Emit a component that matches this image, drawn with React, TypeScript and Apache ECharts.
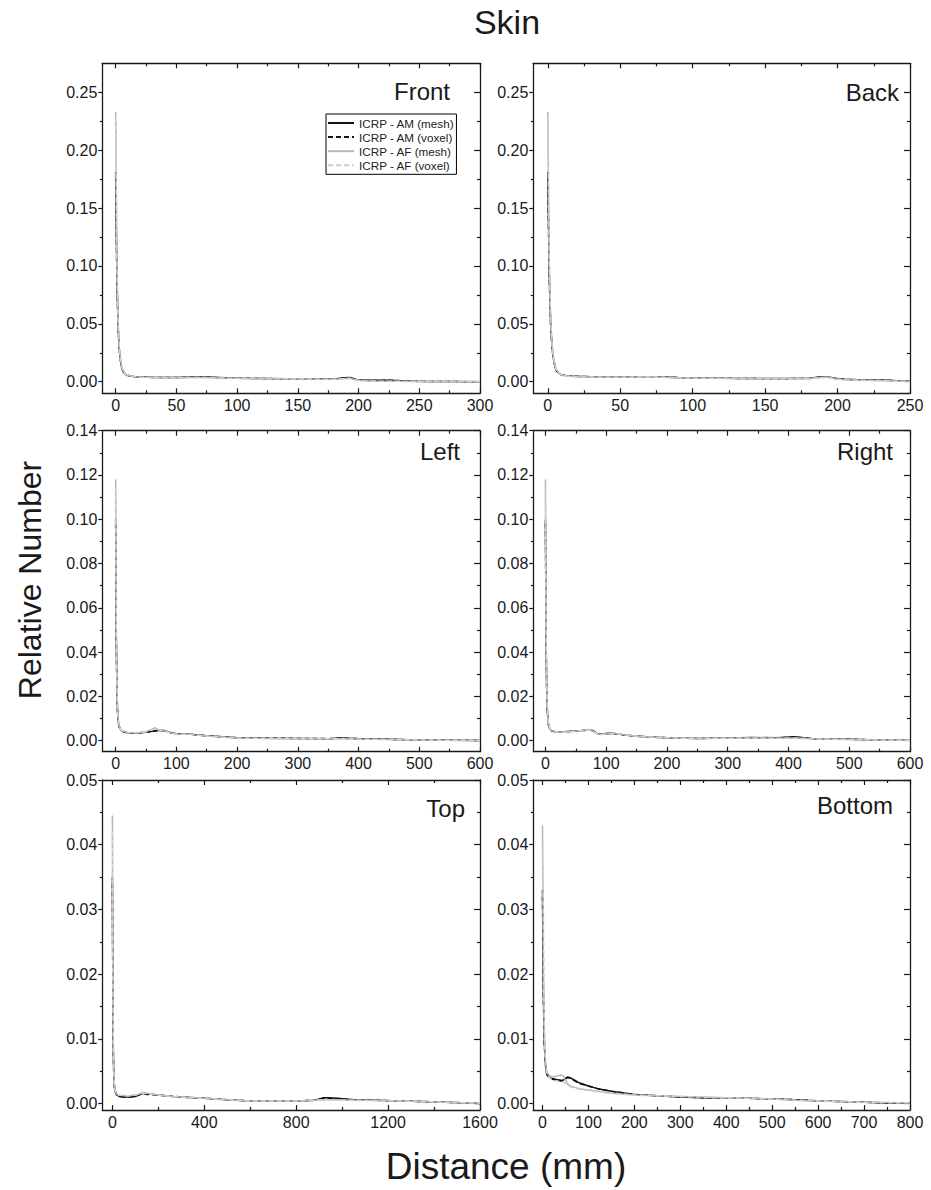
import React, { useEffect, useRef } from "react";
import * as echarts from "echarts";

const SERIES_NAMES = ["ICRP - AM (mesh)", "ICRP - AM (voxel)", "ICRP - AF (mesh)", "ICRP - AF (voxel)"];
const PANEL_TITLES = ["Front", "Back", "Left", "Right", "Top", "Bottom"];

// ---------- Front ----------
const frontX = [0, 1, 2, 3, 4, 5, 6, 8, 10, 13, 16, 20, 30, 40, 50, 60, 70, 80, 90, 100, 120, 140, 160, 180, 188, 193, 198, 205, 215, 225, 235, 245, 260, 280, 300];
const frontAmMesh = [0.181, 0.092, 0.048, 0.028, 0.018, 0.012, 0.009, 0.0065, 0.0055, 0.0048, 0.0044, 0.0042, 0.0038, 0.0037, 0.0037, 0.0039, 0.0041, 0.0038, 0.0034, 0.0031, 0.0028, 0.0026, 0.0024, 0.0023, 0.0034, 0.0036, 0.0019, 0.0013, 0.0012, 0.0013, 0.0009, 0.0004, 0.0002, 0.0001, 0.0];
const frontAmVoxel = [0.178, 0.09, 0.047, 0.027, 0.018, 0.012, 0.0088, 0.0064, 0.0054, 0.0047, 0.0043, 0.0041, 0.0037, 0.0037, 0.0036, 0.0038, 0.004, 0.0037, 0.0033, 0.003, 0.0028, 0.0025, 0.0024, 0.0022, 0.0032, 0.0034, 0.0018, 0.0012, 0.0011, 0.0012, 0.0008, 0.0004, 0.0002, 0.0001, 0.0];
const frontAfMesh = [0.233, 0.105, 0.052, 0.03, 0.019, 0.013, 0.0095, 0.0068, 0.0056, 0.0048, 0.0044, 0.0041, 0.0036, 0.0035, 0.0035, 0.0036, 0.0037, 0.0035, 0.0032, 0.003, 0.0027, 0.0025, 0.0023, 0.0022, 0.0027, 0.003, 0.0015, 0.0008, 0.0005, 0.0004, 0.0003, 0.0002, 0.0002, 0.0001, 0.0];
const frontAfVoxel = [0.228, 0.102, 0.051, 0.029, 0.019, 0.013, 0.0093, 0.0067, 0.0055, 0.0047, 0.0043, 0.004, 0.0036, 0.0035, 0.0034, 0.0035, 0.0036, 0.0034, 0.0031, 0.0029, 0.0027, 0.0024, 0.0023, 0.0021, 0.0026, 0.0029, 0.0014, 0.0008, 0.0005, 0.0004, 0.0003, 0.0002, 0.0002, 0.0001, 0.0];

// ---------- Back ----------
const backX = [0, 1, 2, 3, 4, 5, 6, 8, 10, 13, 16, 20, 30, 40, 50, 60, 70, 80, 90, 100, 120, 140, 160, 180, 188, 193, 198, 205, 215, 225, 235, 245, 250];
const backAmMesh = [0.181, 0.093, 0.049, 0.029, 0.019, 0.013, 0.0095, 0.0068, 0.0058, 0.0052, 0.0049, 0.0047, 0.0044, 0.0043, 0.0042, 0.0042, 0.0044, 0.004, 0.0036, 0.0033, 0.003, 0.0028, 0.0027, 0.0029, 0.004, 0.0043, 0.003, 0.0021, 0.0017, 0.0014, 0.0012, 0.0006, 0.0003];
const backAmVoxel = [0.178, 0.091, 0.048, 0.028, 0.019, 0.013, 0.0093, 0.0067, 0.0057, 0.0051, 0.0048, 0.0046, 0.0043, 0.0042, 0.0041, 0.0041, 0.0043, 0.0039, 0.0035, 0.0032, 0.003, 0.0027, 0.0026, 0.0028, 0.0038, 0.0041, 0.0029, 0.002, 0.0016, 0.0013, 0.0011, 0.0006, 0.0003];
const backAfMesh = [0.233, 0.105, 0.053, 0.031, 0.02, 0.014, 0.01, 0.007, 0.0058, 0.005, 0.0047, 0.0045, 0.0041, 0.004, 0.004, 0.0041, 0.0042, 0.0039, 0.0035, 0.0032, 0.0029, 0.0027, 0.0026, 0.0028, 0.0036, 0.004, 0.0025, 0.0018, 0.0014, 0.0011, 0.0008, 0.0004, 0.0002];
const backAfVoxel = [0.228, 0.102, 0.052, 0.03, 0.02, 0.014, 0.0098, 0.0069, 0.0057, 0.0049, 0.0046, 0.0044, 0.004, 0.0039, 0.0039, 0.004, 0.0041, 0.0038, 0.0034, 0.0031, 0.0028, 0.0026, 0.0025, 0.0027, 0.0034, 0.0038, 0.0024, 0.0017, 0.0013, 0.001, 0.0008, 0.0004, 0.0002];

// ---------- Left ----------
const leftX = [0, 1, 2, 3, 4, 5, 7, 10, 15, 20, 30, 40, 50, 60, 65, 70, 80, 90, 100, 110, 120, 130, 150, 175, 200, 250, 300, 350, 370, 400, 450, 500, 550, 600];
const leftAmMesh = [0.1, 0.048, 0.024, 0.014, 0.0095, 0.0072, 0.0054, 0.0044, 0.0039, 0.0036, 0.0035, 0.0036, 0.0038, 0.0042, 0.0045, 0.0047, 0.0046, 0.0037, 0.0031, 0.003, 0.0031, 0.0027, 0.0022, 0.0017, 0.0013, 0.0011, 0.001, 0.0009, 0.0012, 0.0009, 0.0006, 0.0003, 0.0002, 0.0001];
const leftAmVoxel = [0.098, 0.047, 0.024, 0.014, 0.0094, 0.0071, 0.0053, 0.0043, 0.0038, 0.0036, 0.0035, 0.0036, 0.0038, 0.0041, 0.0044, 0.0046, 0.0045, 0.0036, 0.0031, 0.003, 0.003, 0.0026, 0.0022, 0.0017, 0.0013, 0.0011, 0.001, 0.0009, 0.0011, 0.0009, 0.0006, 0.0003, 0.0002, 0.0001];
const leftAfMesh = [0.118, 0.052, 0.026, 0.015, 0.01, 0.0075, 0.0056, 0.0045, 0.004, 0.0037, 0.0036, 0.0037, 0.004, 0.0052, 0.0058, 0.005, 0.0045, 0.0036, 0.003, 0.0029, 0.003, 0.0026, 0.0021, 0.0016, 0.0012, 0.001, 0.0009, 0.0008, 0.0009, 0.0007, 0.0005, 0.0003, 0.0002, 0.0001];
const leftAfVoxel = [0.114, 0.051, 0.026, 0.015, 0.01, 0.0074, 0.0055, 0.0044, 0.0039, 0.0037, 0.0036, 0.0037, 0.004, 0.0049, 0.0053, 0.0049, 0.0044, 0.0035, 0.003, 0.0029, 0.0029, 0.0025, 0.0021, 0.0016, 0.0012, 0.001, 0.0009, 0.0008, 0.0009, 0.0007, 0.0005, 0.0003, 0.0002, 0.0001];

// ---------- Right ----------
const rightX = [0, 1, 2, 3, 4, 5, 7, 10, 15, 20, 30, 40, 50, 60, 70, 78, 85, 90, 100, 110, 120, 130, 150, 175, 200, 250, 300, 340, 380, 410, 440, 500, 550, 600];
const rightAmMesh = [0.1, 0.048, 0.024, 0.014, 0.0095, 0.0072, 0.0055, 0.0045, 0.0041, 0.004, 0.004, 0.0042, 0.0045, 0.0046, 0.0048, 0.0046, 0.0032, 0.003, 0.0032, 0.0033, 0.003, 0.0025, 0.002, 0.0016, 0.0013, 0.001, 0.0012, 0.0014, 0.0013, 0.0018, 0.0009, 0.0006, 0.0003, 0.0002];
const rightAmVoxel = [0.098, 0.047, 0.024, 0.014, 0.0094, 0.0071, 0.0054, 0.0044, 0.004, 0.0039, 0.0039, 0.0041, 0.0044, 0.0045, 0.0047, 0.0045, 0.0032, 0.003, 0.0031, 0.0032, 0.0029, 0.0025, 0.002, 0.0016, 0.0013, 0.001, 0.0011, 0.0013, 0.0012, 0.0016, 0.0009, 0.0006, 0.0003, 0.0002];
const rightAfMesh = [0.118, 0.052, 0.026, 0.015, 0.01, 0.0075, 0.0056, 0.0046, 0.0041, 0.0039, 0.0039, 0.0041, 0.0044, 0.0046, 0.005, 0.0044, 0.0031, 0.0029, 0.003, 0.0033, 0.0031, 0.0026, 0.002, 0.0016, 0.0013, 0.001, 0.0011, 0.0012, 0.0011, 0.0012, 0.0008, 0.0005, 0.0003, 0.0002];
const rightAfVoxel = [0.115, 0.051, 0.026, 0.015, 0.01, 0.0074, 0.0055, 0.0045, 0.004, 0.0038, 0.0038, 0.004, 0.0043, 0.0045, 0.0048, 0.0043, 0.0031, 0.0029, 0.003, 0.0032, 0.003, 0.0025, 0.002, 0.0016, 0.0013, 0.001, 0.0011, 0.0012, 0.0011, 0.0011, 0.0008, 0.0005, 0.0003, 0.0002];

// ---------- Top ----------
const topX = [0, 2, 4, 6, 8, 10, 15, 20, 30, 50, 75, 100, 120, 135, 150, 200, 265, 300, 400, 500, 600, 700, 800, 880, 920, 940, 980, 1050, 1150, 1250, 1350, 1450, 1550, 1600];
const topAmMesh = [0.035, 0.016, 0.008, 0.0045, 0.003, 0.0022, 0.0016, 0.0013, 0.0011, 0.001, 0.001, 0.0011, 0.0014, 0.0016, 0.0015, 0.0013, 0.0011, 0.001, 0.0008, 0.0006, 0.0004, 0.0004, 0.0004, 0.0005, 0.0009, 0.0009, 0.0008, 0.0006, 0.0005, 0.0004, 0.0003, 0.0002, 0.0001, 0.0];
const topAmVoxel = [0.034, 0.015, 0.0078, 0.0044, 0.003, 0.0022, 0.0016, 0.0013, 0.0011, 0.001, 0.001, 0.0011, 0.0014, 0.0015, 0.0014, 0.0013, 0.0011, 0.001, 0.0008, 0.0006, 0.0004, 0.0004, 0.0004, 0.0005, 0.0008, 0.0008, 0.0007, 0.0006, 0.0005, 0.0004, 0.0003, 0.0002, 0.0001, 0.0];
const topAfMesh = [0.0445, 0.019, 0.009, 0.005, 0.0032, 0.0023, 0.0017, 0.0014, 0.0013, 0.0012, 0.0012, 0.0013, 0.0015, 0.0017, 0.0016, 0.0013, 0.0011, 0.001, 0.0008, 0.0006, 0.0004, 0.0004, 0.0004, 0.0005, 0.0006, 0.0006, 0.0006, 0.0005, 0.0005, 0.0004, 0.0003, 0.0002, 0.0001, 0.0001];
const topAfVoxel = [0.042, 0.018, 0.0088, 0.0049, 0.0031, 0.0023, 0.0017, 0.0014, 0.0013, 0.0012, 0.0012, 0.0013, 0.0015, 0.0016, 0.0015, 0.0013, 0.0011, 0.001, 0.0008, 0.0006, 0.0004, 0.0004, 0.0004, 0.0005, 0.0006, 0.0006, 0.0005, 0.0005, 0.0004, 0.0004, 0.0003, 0.0002, 0.0001, 0.0001];

// ---------- Bottom ----------
const bottomX = [0, 2, 4, 6, 8, 10, 15, 20, 30, 40, 45, 50, 55, 60, 70, 80, 100, 120, 150, 200, 250, 300, 350, 400, 450, 500, 550, 600, 650, 700, 750, 800];
const bottomAmMesh = [0.033, 0.017, 0.0095, 0.0065, 0.005, 0.0045, 0.0041, 0.0039, 0.0037, 0.0036, 0.0036, 0.0039, 0.0041, 0.004, 0.0036, 0.0032, 0.0027, 0.0023, 0.0019, 0.0014, 0.0012, 0.001, 0.0009, 0.0009, 0.0008, 0.0007, 0.0006, 0.0004, 0.0003, 0.0002, 0.0001, 0.0001];
const bottomAmVoxel = [0.032, 0.016, 0.0092, 0.0063, 0.0049, 0.0044, 0.004, 0.0038, 0.0036, 0.0035, 0.0035, 0.0038, 0.004, 0.0039, 0.0035, 0.0031, 0.0027, 0.0023, 0.0019, 0.0014, 0.0012, 0.001, 0.0009, 0.0009, 0.0008, 0.0007, 0.0006, 0.0004, 0.0003, 0.0002, 0.0001, 0.0001];
const bottomAfMesh = [0.043, 0.02, 0.011, 0.007, 0.0055, 0.0048, 0.0043, 0.0041, 0.0042, 0.0044, 0.0043, 0.0036, 0.003, 0.0027, 0.0025, 0.0023, 0.0021, 0.0019, 0.0016, 0.0013, 0.0012, 0.0011, 0.001, 0.0009, 0.0008, 0.0007, 0.0005, 0.0004, 0.0003, 0.0002, 0.00015, 0.0001];
const bottomAfVoxel = [0.04, 0.03, 0.012, 0.007, 0.0052, 0.0045, 0.004, 0.0037, 0.0035, 0.0033, 0.0034, 0.0031, 0.0028, 0.0026, 0.0024, 0.0022, 0.002, 0.0018, 0.0016, 0.0013, 0.0012, 0.0011, 0.001, 0.0009, 0.0008, 0.0007, 0.0005, 0.0004, 0.0003, 0.0002, 0.00015, 0.0001];

// ---------- tick values ----------
const frontXMajor = [0, 50, 100, 150, 200, 250, 300];
const frontXMinor = [25, 75, 125, 175, 225, 275];
const backXMajor = [0, 50, 100, 150, 200, 250];
const backXMinor = [25, 75, 125, 175, 225];
const sideXMajor = [0, 100, 200, 300, 400, 500, 600];
const sideXMinor = [50, 150, 250, 350, 450, 550];
const topXMajor = [0, 400, 800, 1200, 1600];
const topXMinor = [200, 600, 1000, 1400];
const bottomXMajor = [0, 100, 200, 300, 400, 500, 600, 700, 800];
const bottomXMinor = [50, 150, 250, 350, 450, 550, 650, 750];
const row1YMajor = [0, 0.05, 0.1, 0.15, 0.2, 0.25];
const row1YMinor = [0.025, 0.075, 0.125, 0.175, 0.225];
const row2YMajor = [0, 0.02, 0.04, 0.06, 0.08, 0.1, 0.12, 0.14];
const row2YMinor = [0.01, 0.03, 0.05, 0.07, 0.09, 0.11, 0.13];
const row3YMajor = [0, 0.01, 0.02, 0.03, 0.04, 0.05];
const row3YMinor = [0.005, 0.015, 0.025, 0.035, 0.045];

const PANELS = [
  { x: frontX, ys: [frontAmMesh, frontAmVoxel, frontAfMesh, frontAfVoxel], xMin: -11, xMax: 300, yMin: -0.01, yMax: 0.275, xMajor: frontXMajor, xMinor: frontXMinor, yMajor: row1YMajor, yMinor: row1YMinor },
  { x: backX, ys: [backAmMesh, backAmVoxel, backAfMesh, backAfVoxel], xMin: -10, xMax: 250, yMin: -0.01, yMax: 0.275, xMajor: backXMajor, xMinor: backXMinor, yMajor: row1YMajor, yMinor: row1YMinor },
  { x: leftX, ys: [leftAmMesh, leftAmVoxel, leftAfMesh, leftAfVoxel], xMin: -22, xMax: 600, yMin: -0.005, yMax: 0.14, xMajor: sideXMajor, xMinor: sideXMinor, yMajor: row2YMajor, yMinor: row2YMinor },
  { x: rightX, ys: [rightAmMesh, rightAmVoxel, rightAfMesh, rightAfVoxel], xMin: -20, xMax: 600, yMin: -0.005, yMax: 0.14, xMajor: sideXMajor, xMinor: sideXMinor, yMajor: row2YMajor, yMinor: row2YMinor },
  { x: topX, ys: [topAmMesh, topAmVoxel, topAfMesh, topAfVoxel], xMin: -44, xMax: 1600, yMin: -0.001, yMax: 0.05, xMajor: topXMajor, xMinor: topXMinor, yMajor: row3YMajor, yMinor: row3YMinor },
  { x: bottomX, ys: [bottomAmMesh, bottomAmVoxel, bottomAfMesh, bottomAfVoxel], xMin: -20, xMax: 800, yMin: -0.001, yMax: 0.05, xMajor: bottomXMajor, xMinor: bottomXMinor, yMajor: row3YMajor, yMinor: row3YMinor },
];

const GRID_RECTS = [
  { left: 102.3, top: 63.3, width: 377.7, height: 330 },
  { left: 533.3, top: 63.3, width: 376.7, height: 330 },
  { left: 102.3, top: 430.7, width: 377.7, height: 321 },
  { left: 533.3, top: 430.7, width: 376.7, height: 321 },
  { left: 102.3, top: 780, width: 377.7, height: 330 },
  { left: 533.3, top: 780, width: 376.7, height: 330 },
];

const TITLE_POS = [
  { x: 450, y: 91 },
  { x: 899, y: 92 },
  { x: 460, y: 451 },
  { x: 893, y: 451 },
  { x: 465, y: 808 },
  { x: 893, y: 805 },
];

const FONT = "'Liberation Sans', Arial, Helvetica, sans-serif";
const AXIS_COLOR = "#1a1a1a";
const SERIES_STYLE = [
  { color: "#111111", type: "solid" },
  { color: "#111111", type: [5, 3] },
  { color: "#b5b5b5", type: "solid" },
  { color: "#d0d0d0", type: [5, 3] },
];

function axis(kind: "x" | "y", gridIndex: number, position: string, min: number, max: number, ticks: number[], opts: any) {
  const isY = kind === "y";
  return {
    type: "value",
    gridIndex,
    position,
    min,
    max,
    axisLine: { show: !!opts.line, onZero: false, lineStyle: { color: AXIS_COLOR, width: 1.3 } },
    axisTick: { show: true, inside: !!opts.inside, length: opts.len, customValues: ticks, lineStyle: { color: AXIS_COLOR, width: 1.2 } },
    axisLabel: {
      show: !!opts.label,
      customValues: ticks,
      margin: isY ? 5 : 4,
      fontSize: 16,
      color: AXIS_COLOR,
      fontFamily: FONT,
      formatter: (v: number) => (isY ? v.toFixed(2) : String(Math.round(v))),
    },
    splitLine: { show: false },
    minorTick: { show: false },
  };
}

function buildOption() {
  const grid: any[] = [];
  const xAxis: any[] = [];
  const yAxis: any[] = [];
  const series: any[] = [];
  const graphic: any[] = [];

  PANELS.forEach((p, i) => {
    grid.push({ ...GRID_RECTS[i], containLabel: false });
    const xi = xAxis.length;
    xAxis.push(axis("x", i, "bottom", p.xMin, p.xMax, p.xMajor, { line: true, inside: true, len: 5, label: true }));
    xAxis.push(axis("x", i, "bottom", p.xMin, p.xMax, p.xMinor, { inside: true, len: 3 }));
    xAxis.push(axis("x", i, "top", p.xMin, p.xMax, p.xMajor, { line: true, inside: true, len: 5 }));
    xAxis.push(axis("x", i, "top", p.xMin, p.xMax, p.xMinor, { inside: true, len: 3 }));
    const yi = yAxis.length;
    yAxis.push(axis("y", i, "left", p.yMin, p.yMax, p.yMajor, { line: true, inside: false, len: 4, label: true }));
    yAxis.push(axis("y", i, "left", p.yMin, p.yMax, p.yMinor, { inside: false, len: 2.5 }));
    yAxis.push(axis("y", i, "right", p.yMin, p.yMax, p.yMajor, { line: true, inside: true, len: 6 }));
    yAxis.push(axis("y", i, "right", p.yMin, p.yMax, p.yMinor, { inside: true, len: 3 }));

    p.ys.forEach((vals, s) => {
      series.push({
        name: SERIES_NAMES[s],
        type: "line",
        xAxisIndex: xi,
        yAxisIndex: yi,
        symbol: "none",
        showSymbol: false,
        smooth: false,
        clip: true,
        z: 2 + s,
        lineStyle: { color: SERIES_STYLE[s].color, width: 1.5, type: SERIES_STYLE[s].type },
        itemStyle: { color: SERIES_STYLE[s].color },
        data: p.x.map((xv, k) => [xv, vals[k]]),
      });
    });

    graphic.push({
      type: "text",
      x: TITLE_POS[i].x,
      y: TITLE_POS[i].y,
      style: { text: PANEL_TITLES[i], font: `24px ${FONT}`, fill: "#1a1a1a", textAlign: "right", textVerticalAlign: "middle" },
      z: 100,
    });
  });

  graphic.push({
    type: "text",
    x: 507,
    y: 22,
    style: { text: "Skin", font: `34px ${FONT}`, fill: "#1a1a1a", textAlign: "center", textVerticalAlign: "middle" },
  });
  graphic.push({
    type: "text",
    x: 506,
    y: 1166,
    style: { text: "Distance (mm)", font: `37px ${FONT}`, fill: "#1a1a1a", textAlign: "center", textVerticalAlign: "middle" },
  });
  graphic.push({
    type: "text",
    x: 30,
    y: 580,
    rotation: Math.PI / 2,
    style: { text: "Relative Number", font: `32px ${FONT}`, fill: "#1a1a1a", textAlign: "center", textVerticalAlign: "middle" },
  });

  return {
    animation: false,
    backgroundColor: "#ffffff",
    grid,
    xAxis,
    yAxis,
    series,
    graphic,
    legend: {
      show: true,
      data: SERIES_NAMES,
      orient: "vertical",
      left: 326,
      top: 114,
      itemWidth: 26,
      itemHeight: 12,
      itemGap: 2.1,
      padding: [3, 2, 3, 1],
      borderColor: "#000",
      borderWidth: 1,
      selectedMode: false,
      itemStyle: { opacity: 0 },
      textStyle: { fontSize: 11.7, color: "#222", fontFamily: FONT },
    },
  };
}

export default function App() {
  const ref = useRef<HTMLDivElement>(null);
  useEffect(() => {
    if (!ref.current) return;
    const chart = echarts.init(ref.current, null, { renderer: "svg" });
    chart.setOption(buildOption() as any);
    return () => chart.dispose();
  }, []);
  return <div ref={ref} style={{ position: "absolute", left: 0, top: 0, width: 931, height: 1190, background: "#fff" }} />;
}
